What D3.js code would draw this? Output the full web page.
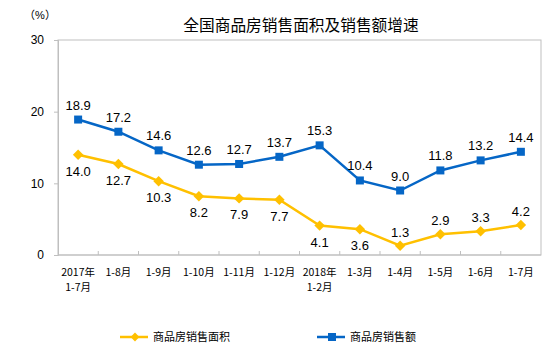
<!DOCTYPE html>
<html>
<head>
<meta charset="utf-8">
<script src="https://cdn.jsdelivr.net/npm/d3@7"></script>
<style>
body { margin: 0; background: #fff; }
svg { font-family: "Liberation Sans", "Noto Sans CJK SC", sans-serif; }
</style>
</head>
<body>
<svg id="chart"></svg>
<script>
const months = ["2017年\n1-7月", "1-8月", "1-9月", "1-10月", "1-11月", "1-12月",
    "2018年\n1-2月", "1-3月", "1-4月", "1-5月", "1-6月", "1-7月"];
const areaGrowth = [14.0, 12.7, 10.3, 8.2, 7.9, 7.7, 4.1, 3.6, 1.3, 2.9, 3.3, 4.2];
const salesGrowth = [18.9, 17.2, 14.6, 12.6, 12.7, 13.7, 15.3, 10.4, 9.0, 11.8, 13.2, 14.4];
const yTicks = [0, 10, 20, 30];
const seriesNames = ["商品房销售面积", "商品房销售额"];

const width = 554, height = 358;
const margin = { top: 40, right: 13, bottom: 103, left: 58 };
const yellow = "#FFC000", blue = "#0566C6";

const svg = d3.select("#chart")
    .attr("width", width)
    .attr("height", height);

const x = d3.scaleBand()
    .domain(months)
    .range([margin.left, width - margin.right]);
const y = d3.scaleLinear()
    .domain([0, 30])
    .range([height - margin.bottom, margin.top]);

// title
svg.append("text")
    .attr("x", 301).attr("y", 31)
    .attr("text-anchor", "middle")
    .style("font-family", "'Noto Sans CJK SC'")
    .style("font-size", "15.7px")
    .text("全国商品房销售面积及销售额增速");

svg.append("text")
    .attr("x", 40).attr("y", 19)
    .attr("text-anchor", "middle")
    .style("font-size", "11px")
    .text("（%）");

// frame
svg.append("rect")
    .attr("x", margin.left).attr("y", margin.top)
    .attr("width", width - margin.left - margin.right)
    .attr("height", height - margin.top - margin.bottom)
    .attr("fill", "none")
    .attr("stroke", "#bfbfbf");

// y axis
const yAxis = svg.append("g")
    .attr("transform", `translate(${margin.left},0)`)
    .call(d3.axisLeft(y).tickValues(yTicks).tickSize(4).tickPadding(10));
yAxis.select(".domain").attr("stroke", "#bfbfbf");
yAxis.selectAll(".tick line").attr("stroke", "#bfbfbf");
yAxis.selectAll(".tick text").style("font-size", "12px").attr("fill", "#000");

// x axis (ticks between categories)
const xAxis = svg.append("g")
    .attr("transform", `translate(0,${height - margin.bottom})`);
xAxis.append("line")
    .attr("x1", margin.left).attr("x2", width - margin.right)
    .attr("stroke", "#bfbfbf");
xAxis.selectAll(".sep")
    .data(months.slice(1))
    .join("line")
    .attr("x1", d => x(d)).attr("x2", d => x(d))
    .attr("y1", 0).attr("y2", -4)
    .attr("stroke", "#bfbfbf");
xAxis.selectAll(".lbl")
    .data(months)
    .join("text")
    .attr("text-anchor", "middle")
    .style("font-size", "10.5px")
    .style("font-family", "'Noto Sans CJK SC'")
    .each(function(d) {
        const t = d3.select(this);
        d.split("\n").forEach((line, i) => {
            t.append("tspan")
                .attr("x", x(d) + x.bandwidth() / 2)
                .attr("y", 21 + i * 15)
                .text(line);
        });
    });

const line = d3.line()
    .x((d, i) => x(months[i]) + x.bandwidth() / 2)
    .y(d => y(d));

// sales line
svg.append("path")
    .datum(salesGrowth)
    .attr("fill", "none")
    .attr("stroke", blue)
    .attr("stroke-width", 2.5)
    .attr("d", line);
svg.selectAll(".sq")
    .data(salesGrowth)
    .join("rect")
    .attr("x", (d, i) => x(months[i]) + x.bandwidth() / 2 - 4)
    .attr("y", d => y(d) - 4)
    .attr("width", 8).attr("height", 8)
    .attr("fill", blue);
svg.selectAll(".slbl")
    .data(salesGrowth)
    .join("text")
    .attr("x", (d, i) => x(months[i]) + x.bandwidth() / 2)
    .attr("y", d => y(d) - 10)
    .attr("text-anchor", "middle")
    .style("font-size", "13px")
    .text(d => d.toFixed(1));

// area line
svg.append("path")
    .datum(areaGrowth)
    .attr("fill", "none")
    .attr("stroke", yellow)
    .attr("stroke-width", 2.5)
    .attr("d", line);
const diamond = d3.symbol().type(d3.symbolDiamond2).size(70);
svg.selectAll(".dm")
    .data(areaGrowth)
    .join("path")
    .attr("transform", (d, i) => `translate(${x(months[i]) + x.bandwidth() / 2},${y(d)})`)
    .attr("d", diamond)
    .attr("fill", yellow);
svg.selectAll(".albl")
    .data(areaGrowth)
    .join("text")
    .attr("x", (d, i) => x(months[i]) + x.bandwidth() / 2)
    .attr("y", (d, i) => i < 8 ? y(d) + 21 : y(d) - 9)
    .attr("text-anchor", "middle")
    .style("font-size", "13px")
    .text(d => d.toFixed(1));

// legend
const legend = svg.append("g").attr("transform", "translate(0,337)");
const items = [
    { name: seriesNames[0], color: yellow, x0: 120, shape: "diamond" },
    { name: seriesNames[1], color: blue, x0: 317, shape: "square" }
];
items.forEach(it => {
    legend.append("line")
        .attr("x1", it.x0).attr("x2", it.x0 + 28)
        .attr("stroke", it.color).attr("stroke-width", 2.5);
    if (it.shape === "diamond") {
        legend.append("path")
            .attr("transform", `translate(${it.x0 + 15},0)`)
            .attr("d", d3.symbol().type(d3.symbolDiamond2).size(50))
            .attr("fill", it.color);
    } else {
        legend.append("rect")
            .attr("x", it.x0 + 11).attr("y", -4)
            .attr("width", 8).attr("height", 8)
            .attr("fill", it.color);
    }
    legend.append("text")
        .attr("x", it.x0 + 33).attr("y", 4)
        .style("font-size", "11px")
        .style("font-family", "'Noto Sans CJK SC'")
        .text(it.name);
});
</script>
</body>
</html>
